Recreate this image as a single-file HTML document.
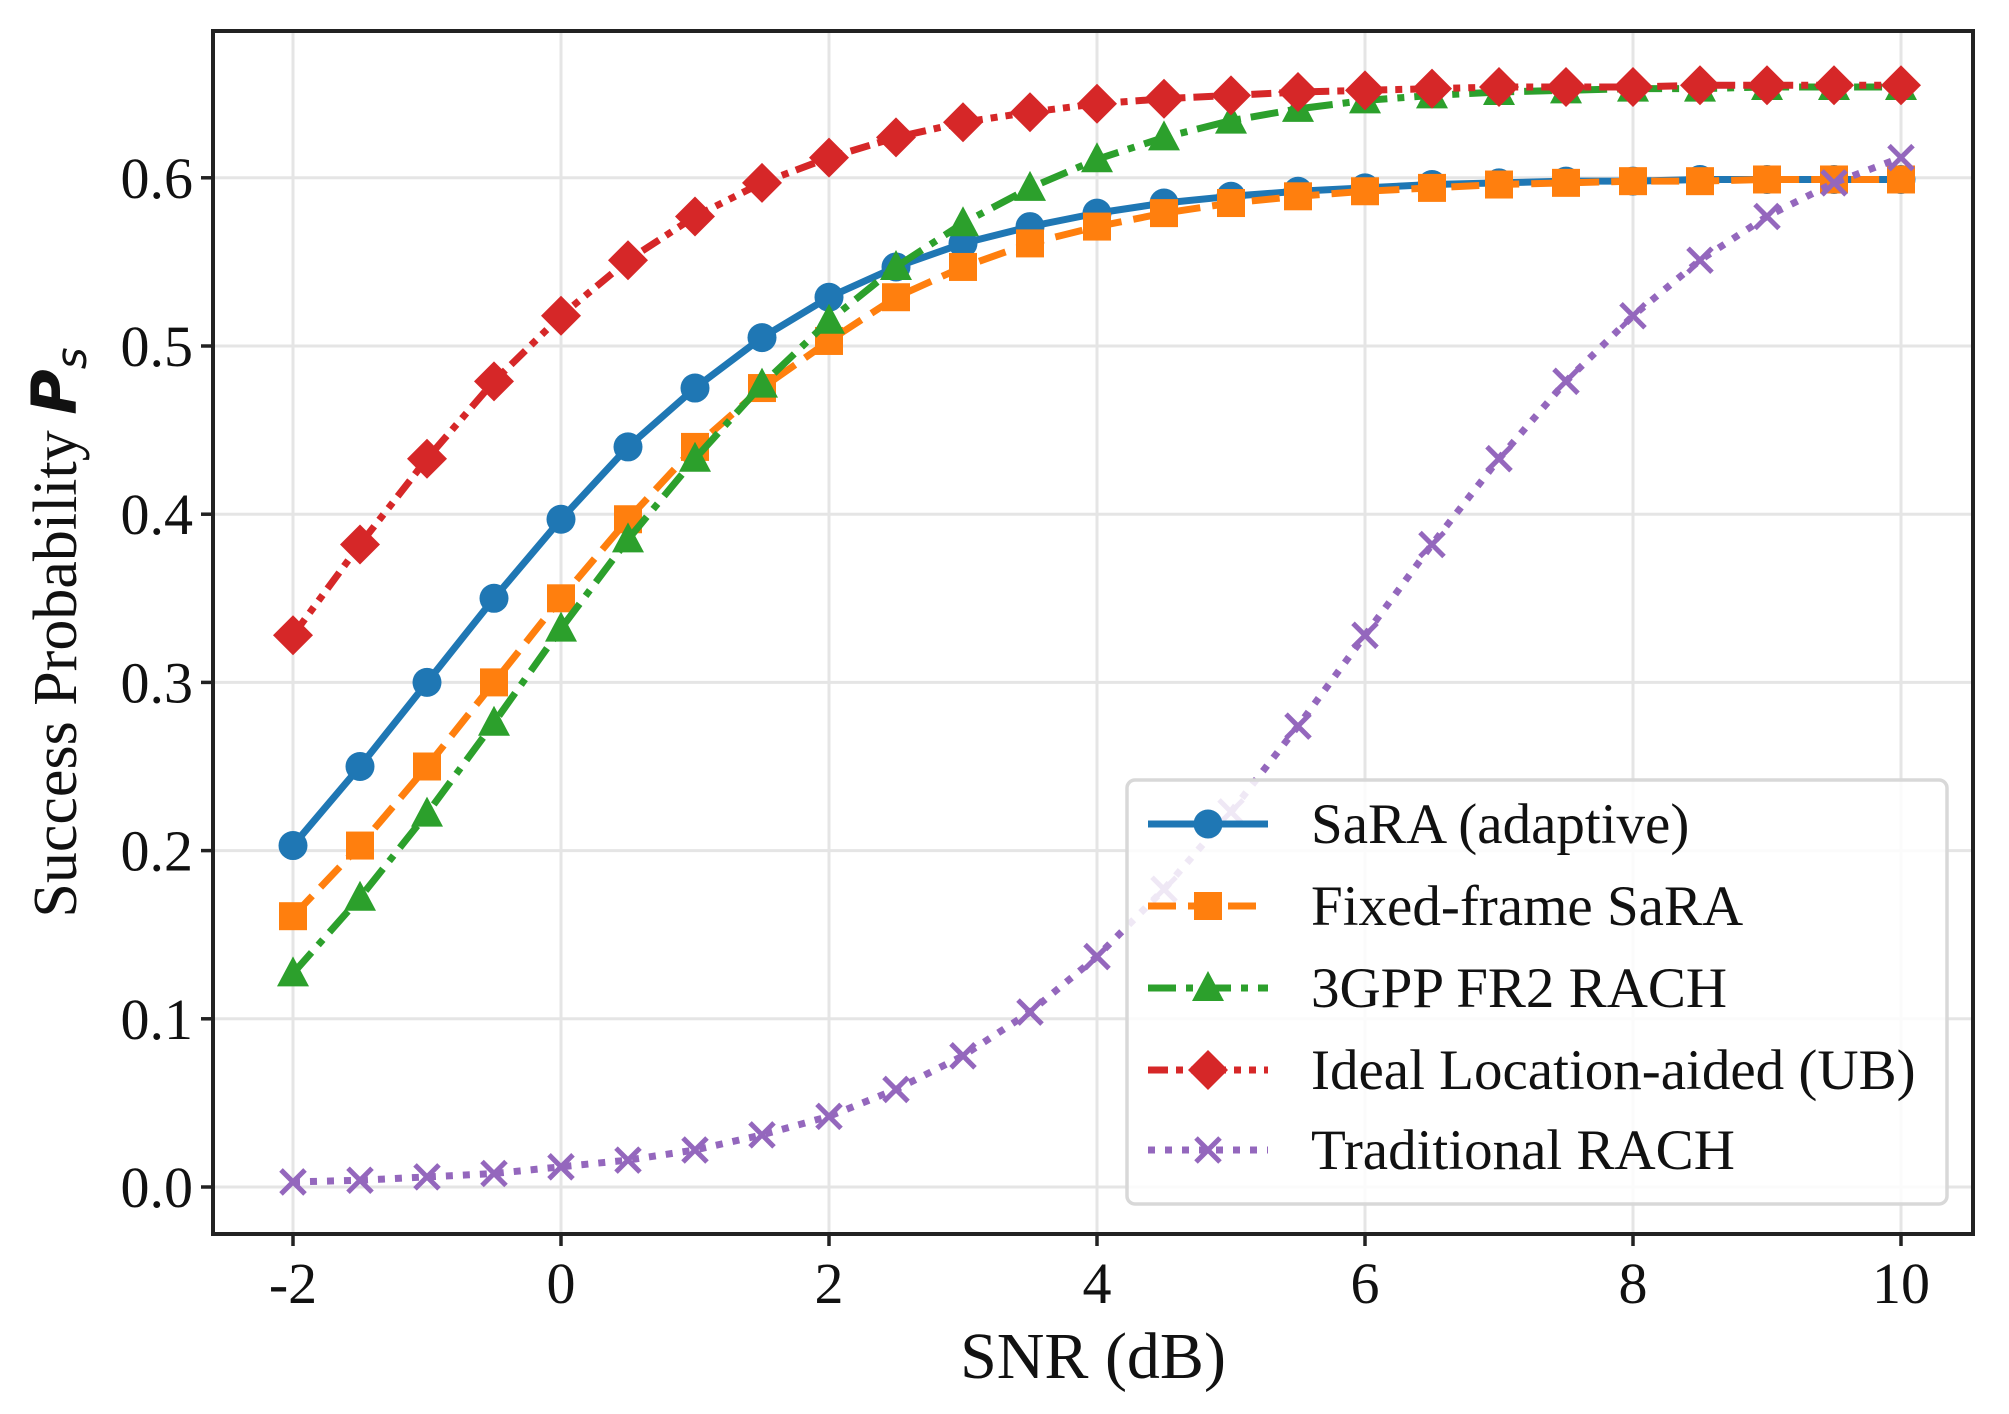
<!DOCTYPE html>
<html><head><meta charset="utf-8"><style>
html,body{margin:0;padding:0;background:#fff}
svg{display:block;font-family:"Liberation Serif",serif}
</style></head><body>
<svg id="chart" width="2009" height="1414" xmlns="http://www.w3.org/2000/svg"></svg>
<script>
const snr=[-2,-1.5,-1,-0.5,0,0.5,1,1.5,2,2.5,3,3.5,4,4.5,5,5.5,6,6.5,7,7.5,8,8.5,9,9.5,10];
const sara=[0.203,0.25,0.30,0.35,0.397,0.44,0.475,0.505,0.529,0.547,0.561,0.571,0.579,0.585,0.589,0.592,0.594,0.596,0.597,0.598,0.598,0.599,0.599,0.599,0.599];
const fixedSara=[0.161,0.203,0.25,0.30,0.35,0.397,0.44,0.475,0.503,0.529,0.547,0.561,0.571,0.579,0.585,0.589,0.592,0.594,0.596,0.597,0.598,0.598,0.599,0.599,0.599];
const gpp=[0.127,0.172,0.222,0.276,0.332,0.385,0.433,0.477,0.515,0.547,0.573,0.594,0.611,0.624,0.634,0.641,0.646,0.649,0.651,0.652,0.653,0.653,0.654,0.654,0.654];
const ideal=[0.328,0.382,0.433,0.479,0.518,0.551,0.577,0.597,0.612,0.624,0.633,0.639,0.644,0.647,0.649,0.651,0.652,0.653,0.654,0.654,0.654,0.655,0.655,0.655,0.655];
const trad=[0.003,0.004,0.006,0.008,0.012,0.016,0.022,0.031,0.042,0.058,0.078,0.104,0.137,0.177,0.223,0.274,0.328,0.382,0.433,0.479,0.518,0.551,0.577,0.597,0.612];
const xTicks=[-2,0,2,4,6,8,10];
const yTicks=[0,0.1,0.2,0.3,0.4,0.5,0.6];
const yTickLabels=["0.0","0.1","0.2","0.3","0.4","0.5","0.6"];

const L=213,T=31,R=1973,B=1234;
const X=v=>293+(v+2)*134;
const Y=v=>1187-v*1682;
const svg=document.getElementById('chart');
const NS='http://www.w3.org/2000/svg';
function mk(tag,attrs,parent){const e=document.createElementNS(NS,tag);for(const k in attrs)e.setAttribute(k,attrs[k]);(parent||svg).appendChild(e);return e;}

const grid=mk('g',{});


xTicks.forEach(t=>{mk('line',{x1:X(t),x2:X(t),y1:T,y2:B,stroke:'#e5e5e5','stroke-width':3},grid);});
yTicks.forEach(t=>{mk('line',{x1:L,x2:R,y1:Y(t),y2:Y(t),stroke:'#e5e5e5','stroke-width':3},grid);});

const series=[
 {name:'SaRA (adaptive)',id:'sara',data:sara,color:'#1f77b4',dash:'',marker:'circle'},
 {name:'Fixed-frame SaRA',id:'fixed-frame-sara',data:fixedSara,color:'#ff7f0e',dash:'28,12',marker:'square'},
 {name:'3GPP FR2 RACH',id:'3gpp-fr2-rach',data:gpp,color:'#2ca02c',dash:'28,10,7,10',marker:'triangle'},
 {name:'Ideal Location-aided (UB)',id:'ideal-location-aided',data:ideal,color:'#d62728',dash:'20,8,7,8,7,8',marker:'diamond'},
 {name:'Traditional RACH',id:'traditional-rach',data:trad,color:'#9467bd',dash:'7,10',marker:'x'}
];
function marker(type,x,y,c,g){
 if(type==='circle')return mk('circle',{cx:x,cy:y,r:14.5,fill:c},g);
 if(type==='square')return mk('rect',{x:x-14,y:y-14,width:28,height:28,fill:c},g);
 if(type==='triangle')return mk('polygon',{points:`${x},${y-17} ${x+16},${y+13} ${x-16},${y+13}`,fill:c},g);
 if(type==='diamond')return mk('polygon',{points:`${x},${y-20} ${x+20},${y} ${x},${y+20} ${x-20},${y}`,fill:c},g);
 return mk('path',{d:`M${x-12},${y-12}L${x+12},${y+12}M${x-12},${y+12}L${x+12},${y-12}`,stroke:c,'stroke-width':5,fill:'none'},g);
}
series.forEach(s=>{
 const g=mk('g',{});
 
 
 const pts=s.data.map((v,i)=>X(snr[i])+','+Y(v)).join(' ');
 const pl=mk('polyline',{points:pts,fill:'none',stroke:s.color,'stroke-width':7,'stroke-dasharray':s.dash,'stroke-linejoin':'round'},g);
 
 
 s.data.forEach((v,i)=>{const m=marker(s.marker,X(snr[i]),Y(v),s.color,g);
  
  });
});

const frame=mk('rect',{x:L,y:T,width:R-L,height:B-T,fill:'none',stroke:'#222','stroke-width':4});


xTicks.forEach(t=>{mk('line',{x1:X(t),x2:X(t),y1:B,y2:B+12,stroke:'#222','stroke-width':3.5});
 const tx=mk('text',{x:X(t),y:1303,'font-size':58,'text-anchor':'middle',fill:'#111'});tx.textContent=String(t);
 
 });
yTicks.forEach((t,i)=>{mk('line',{x1:L-12,x2:L,y1:Y(t),y2:Y(t),stroke:'#222','stroke-width':3.5});
 const tx=mk('text',{x:193,y:Y(t)+20,'font-size':58,'text-anchor':'end',fill:'#111'});tx.textContent=yTickLabels[i];
 
 });

const xl=mk('text',{x:(L+R)/2,y:1378,'font-size':66,'text-anchor':'middle',fill:'#111'});
xl.textContent='SNR (dB)';


const yl=mk('text',{x:0,y:0,'font-size':62,'text-anchor':'middle',fill:'#111',transform:`translate(76,${(T+B)/2}) rotate(-90)`});
yl.innerHTML='Success Probability <tspan font-family="DejaVu Sans" font-style="italic" font-weight="bold">P</tspan><tspan font-family="DejaVu Sans" font-style="italic" font-size="42" dy="10">s</tspan>';



const lg=mk('g',{});


mk('rect',{x:1127,y:780,width:820,height:424,rx:8,fill:'rgba(255,255,255,0.85)',stroke:'#d8d8d8','stroke-width':3.5},lg);
const rows=[824,906,988,1070,1150];
series.forEach((s,i)=>{
 const e=mk('g',{},lg);
 
 
 const y=rows[i];
 mk('line',{x1:1148,x2:1268,y1:y,y2:y,stroke:s.color,'stroke-width':7,'stroke-dasharray':s.dash},e);
 marker(s.marker,1208,y,s.color,e);
 const t=mk('text',{x:1311,y:y+19,'font-size':57,fill:'#111'},e);t.textContent=s.name;
});
</script>
</body></html>
